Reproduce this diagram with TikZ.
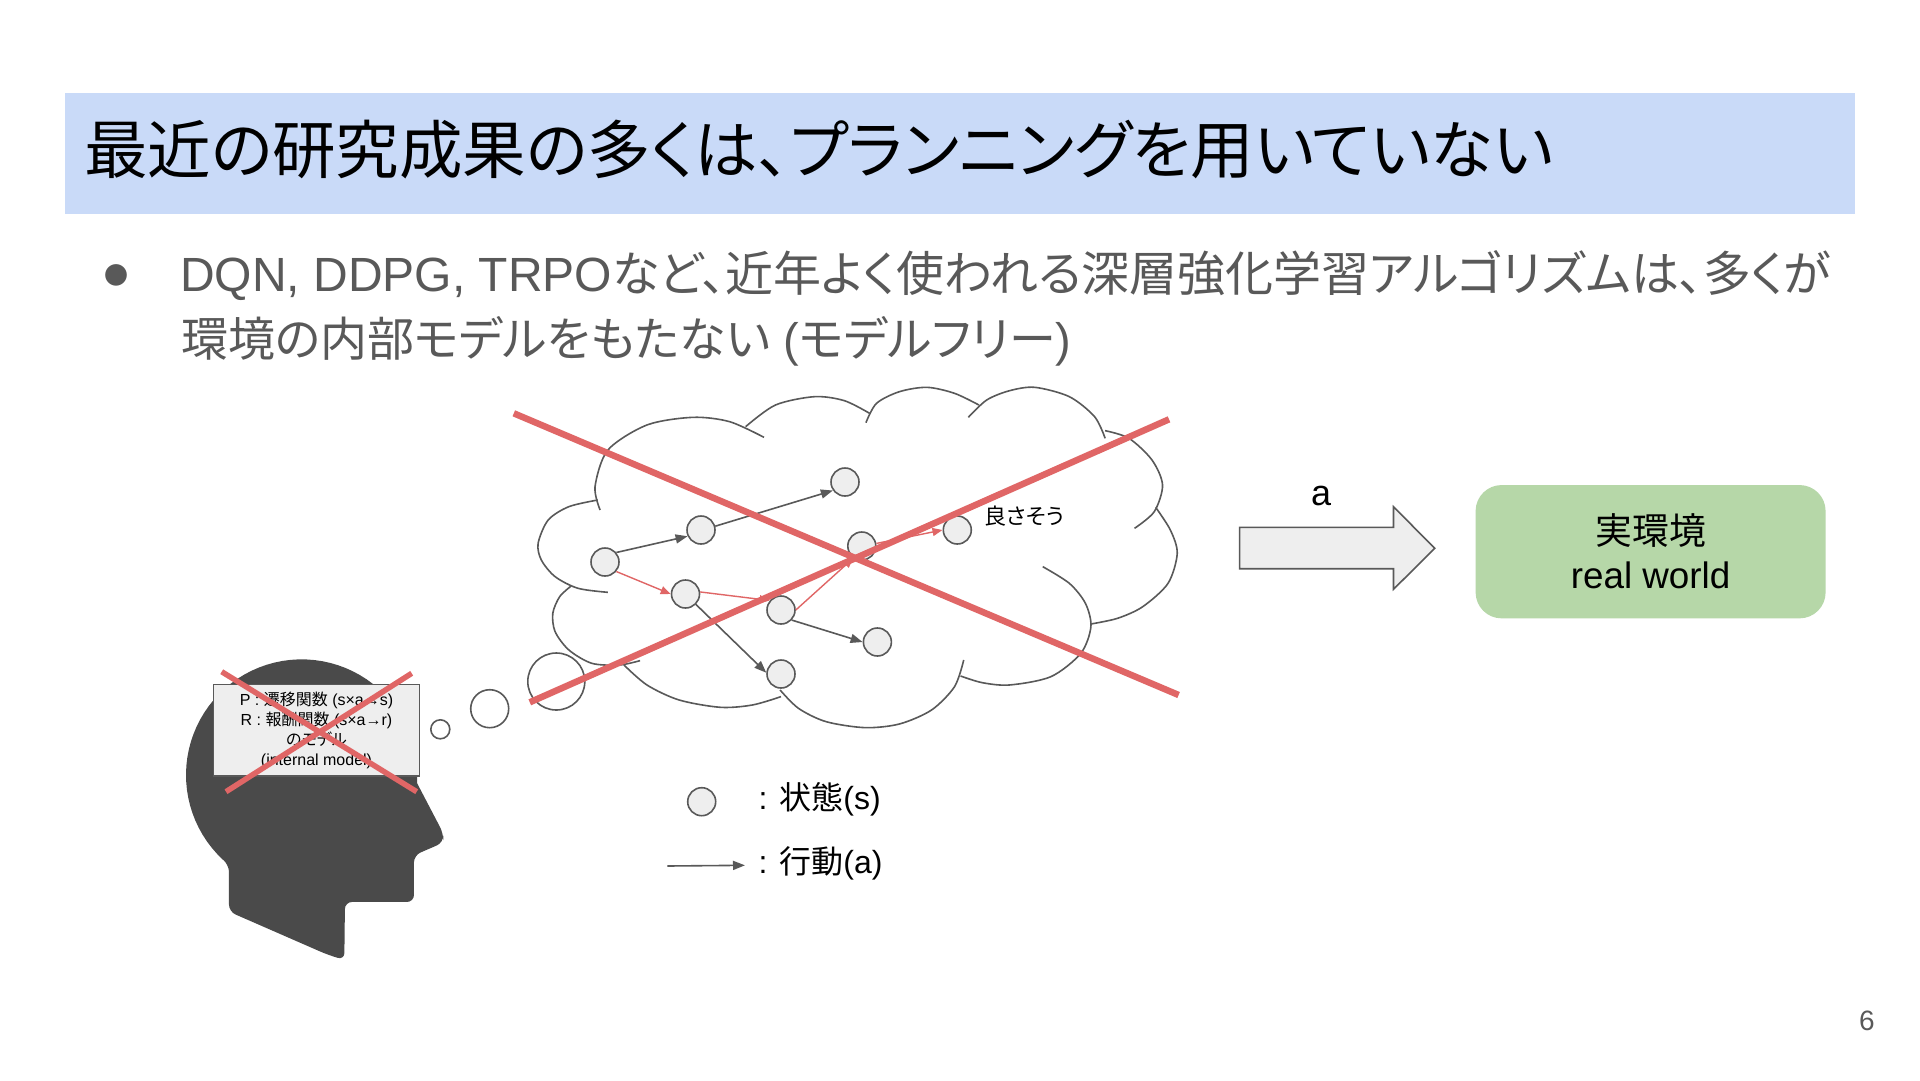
\documentclass[tikz,border=0pt]{standalone}
\usepackage{fontspec}
\usetikzlibrary{arrows.meta}
\setmainfont{Liberation Sans}
\newfontfamily\jp[RawFeature={+palt}]{Noto Sans CJK JP}
\definecolor{ink}{HTML}{595959}
\definecolor{headc}{HTML}{4A4A4A}
\definecolor{crossc}{HTML}{E06666}
\definecolor{boxc}{HTML}{EEEEEE}
\definecolor{titlec}{HTML}{C9DAF8}
\definecolor{greenc}{HTML}{B6D7A8}
\newcommand{\fs}[2]{\fontsize{#1}{#2}\selectfont\lineskiplimit=-100pt }
\tikzset{
  statenode/.style={circle,draw=ink,fill=boxc,line width=1.6pt,minimum size=28pt,inner sep=0pt},
  thought/.style={circle,draw=ink,line width=1.6pt,inner sep=0pt},
  cloudarc/.style={draw=ink,line width=1.6pt},
  darkarrow/.style={draw=ink,line width=1.6pt,-{Triangle[length=12pt,width=9pt]}},
  redarrow/.style={draw=crossc,line width=1.4pt,-{Triangle[length=10pt,width=8pt]}},
  crossline/.style={draw=crossc,line width=6.5pt},
  smallcross/.style={draw=crossc,line width=5.5pt},
  lefttext/.style={anchor=base west,inner sep=0pt},
}
\begin{document}
\begin{tikzpicture}[x=1pt,y=-1pt]
\useasboundingbox (0,0) rectangle (1920,1080);
\fill[white] (0,0) rectangle (1920,1080);
% title
\fill[titlec] (65,93) rectangle (1855,214);
\node[lefttext,text=black] (title) at (84,173) {\fs{63.5}{70}\jp 最近の研究成果の多くは、プランニングを用いていない};
% body
\node[lefttext,text=ink] (bullet) at (104,284.5) {\fs{24}{30}\jp ●};
\node[lefttext,text=ink] (l1) at (180,291) {\fs{48}{50}DQN, DDPG, TRPO{\jp など、近年よく使われる深層強化学習アルゴリズムは、多くが}};
\node[lefttext,text=ink] (l2) at (181,356) {\fs{47}{50}{\jp 環境の内部モデルをもたない} ({\jp モデルフリー})};
% head
\begin{scope}[x=0.3333pt,y=-0.3333pt,shift={(150pt,-620pt)}]
\fill[headc] plot[domain=129:364,samples=60] ({455+347*cos(\x)},{465+347*sin(\x)})
  [rounded corners=7pt] -- (880,640) -- (880,668) -- (792,706) -- (792,846) -- (585,846) -- (583,1020) -- (530,1003) -- (237,875) -- (237,735) [sharp corners] -- cycle;
\end{scope}
\node[draw=ink,fill=boxc,line width=1.6pt,minimum width=206pt,minimum height=91.4pt,inner sep=0pt,align=center,text=black,font=\fs{16}{20}] (model) at (316.5,730)
 {P : {\jp 遷移関数} (s×a→s)\\ R : {\jp 報酬関数} (s×a→r)\\ {\jp のモデル}\\ (internal model)};
\coordinate (c1a) at (221.7,671.7); \coordinate (c1b) at (416.7,791.7);
\coordinate (c2a) at (226,791.7); \coordinate (c2b) at (411.7,673.3);
\draw[smallcross] (c1a) -- (c1b);
\draw[smallcross] (c2a) -- (c2b);
% thought bubbles
\node[thought,minimum size=19pt] (t1) at (440.3,729.3) {};
\node[thought,minimum size=38pt] (t2) at (489.7,708.7) {};
\node[thought,minimum size=57pt] (t3) at (556.3,681.5) {};
% cloud
\begin{scope}[x=0.45914pt,y=-0.3333pt,shift={(500pt,-370pt)}]
\draw[cloudarc] plot[smooth] coordinates {(218,420) (207,350) (235,240) (320,165) (420,142) (500,155) (575,202)};
\draw[cloudarc] plot[smooth] coordinates {(535,170) (600,105) (685,80) (750,92) (805,130)};
\draw[cloudarc] plot[smooth] coordinates {(797,158) (820,100) (870,65) (930,52) (990,70) (1043,105)};
\draw[cloudarc] plot[smooth] coordinates {(1020,142) (1060,90) (1110,62) (1165,52) (1240,80) (1295,140) (1318,205)};
\draw[cloudarc] plot[smooth] coordinates {(1318,182) (1370,205) (1420,270) (1443,345) (1425,425) (1382,475)};
\draw[cloudarc] plot[smooth] coordinates {(1428,412) (1460,480) (1475,550) (1455,640) (1400,710) (1345,745) (1287,762)};
\draw[cloudarc] plot[smooth] coordinates {(1182,590) (1240,640) (1275,700) (1287,770) (1265,850) (1200,920) (1110,945) (1050,938) (1003,918)};
\draw[cloudarc] plot[smooth] coordinates {(1010,870) (990,950) (940,1020) (870,1062) (795,1073) (710,1055) (650,1015) (610,960)};
\draw[cloudarc] plot[smooth] coordinates {(612,980) (550,1005) (480,1012) (390,990) (320,945) (270,885)};
\draw[cloudarc] plot[smooth] coordinates {(305,872) (260,885) (200,880) (150,840) (120,785) (115,730) (130,680) (155,648)};
\draw[cloudarc] plot[smooth] coordinates {(235,667) (170,655) (120,620) (90,570) (83,520) (105,450) (150,410) (213,390)};
\end{scope}
% states
\node[statenode] (s0) at (605,562) {};
\node[statenode] (s1) at (701,530) {};
\node[statenode] (s2) at (845,482) {};
\node[statenode] (s3) at (685.5,594) {};
\node[statenode] (s4) at (781,610) {};
\node[statenode] (s5) at (781,674) {};
\node[statenode] (s6) at (877.4,642) {};
\node[statenode] (s7) at (861.8,546) {};
\node[statenode] (s8) at (957.3,530) {};
\draw[darkarrow] (s0.40) -- (s1.205);
\draw[darkarrow] (s1.15) -- (s2.215);
\draw[darkarrow] (s3.-45) -- (s5.175);
\draw[darkarrow] (s4.-43) -- (s6.180);
\draw[redarrow] (s0.-40) -- (s3.180);
\draw[redarrow] (s3.8) -- (s4.140);
\draw[redarrow] (s4.0) -- (s7.235);
\draw[redarrow] (s7.10) -- (s8.180);
\node[lefttext,text=black] (good) at (984.5,524) {\fs{22}{24}\jp 良さそう};
% big cross
\coordinate (b1a) at (513.8,413.3); \coordinate (b1b) at (1178.6,695);
\coordinate (b2a) at (529.8,702.3); \coordinate (b2b) at (1169,419.3);
\draw[crossline] (b1a) -- (b1b);
\draw[crossline] (b2a) -- (b2b);
% legend
\node[statenode,minimum size=28pt] (ls) at (701.7,801.7) {};
\node[lefttext,text=black] (lst) at (758.5,809.5) {\fs{32}{36}: {\jp 状態}(s)};
\coordinate (la) at (667.3,866); \coordinate (lb) at (745,865.3);
\draw[darkarrow] (la) -- (lb);
\node[lefttext,text=black] (lat) at (758.5,873.5) {\fs{32}{36}: {\jp 行動}(a)};
% block arrow
\draw[draw=ink,fill=boxc,line width=1.6pt] (1239.6,527.3) -- (1393.5,527.3) -- (1393.5,506.7) -- (1434.7,548.3) -- (1393.5,589.3) -- (1393.5,568.7) -- (1239.6,568.7) -- cycle;
\node[anchor=base,inner sep=0pt,text=black] (alabel) at (1321,505.5) {\fs{36}{40}a};
% real world
\node[fill=greenc,rounded corners=26pt,minimum width=350pt,minimum height=133.3pt,inner sep=0pt,align=center,text=black,font=\fs{36.8}{44}] (world) at (1650.6,551.7)
 {{\jp 実環境}\\ real world};
% page number
\node[anchor=center,inner sep=0pt,text=ink] (page) at (1867,1021) {\fs{28}{30}6};
\end{tikzpicture}
\end{document}
